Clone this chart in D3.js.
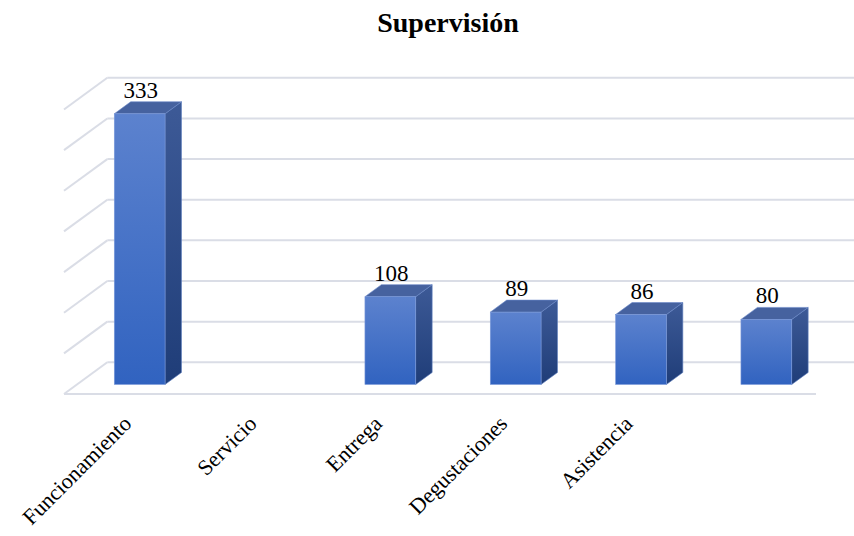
<!DOCTYPE html>
<html>
<head>
<meta charset="utf-8">
<script src="https://cdn.jsdelivr.net/npm/d3@7"></script>
<style>
  body { margin: 0; background: #fff; }
  #graph svg { display: block; }
</style>
</head>
<body>
<div id="graph"></div>
<script>
//Chart data.
const categories = ["Funcionamiento", "Servicio", "Entrega", "Degustaciones", "Asistencia", ""];
const values = [333, null, 108, 89, 86, 80];
const yTicks = [0, 50, 100, 150, 200, 250, 300, 350];

const serif = "'Liberation Serif', Tinos, 'Times New Roman', 'DejaVu Serif', serif";

//Dimensions of the page and the plot floor.
let w = 854;
let h = 536;
let left = 64;
let right = 816;
let floorY = 394;
let plotH = 284.5;

//Oblique depth of the floor, and where the bars sit inside it.
let depthX = 43.3;
let depthY = -31.7;
let frontF = 0.3;
let backF = 0.68;

let xScale
let yScale

const svg = d3.select("#graph")
  .append("svg")
  .attr("width", w)
  .attr("height", h)
  .attr("viewBox", "0 0 " + w + " " + h)

const dataSet = categories.map((c, i) => ({ name: c, value: values[i] }))

getScales();
addGradients();
drawGrid();
drawBars();
addLabels();

function getScales() {
  xScale = d3.scaleBand()
    .domain(categories)
    .range([left, right])
    .paddingInner(0.595)
    .paddingOuter(0.2975)

  yScale = d3.scaleLinear()
    .domain([0, 350])
    .range([floorY, floorY - plotH])
}

function addGradients() {
  const defs = svg.append("defs")

  const front = defs.append("linearGradient")
    .attr("id", "frontGrad")
    .attr("x1", 0).attr("y1", 0).attr("x2", 0).attr("y2", 1)
  front.append("stop").attr("offset", "0%").attr("stop-color", "#5c82ce")
  front.append("stop").attr("offset", "100%").attr("stop-color", "#3163c0")

  const side = defs.append("linearGradient")
    .attr("id", "sideGrad")
    .attr("x1", 0).attr("y1", 0).attr("x2", 0).attr("y2", 1)
  side.append("stop").attr("offset", "0%").attr("stop-color", "#3d5a97")
  side.append("stop").attr("offset", "100%").attr("stop-color", "#1f3d78")
}

//Back wall lines and the slanted lines on the left wall.
function drawGrid() {
  const grid = svg.append("g").attr("class", "grid")

  grid.selectAll("line.back")
    .data(yTicks)
    .enter()
    .append("line")
    .attr("class", "back")
    .attr("x1", left + depthX)
    .attr("x2", right + depthX)
    .attr("y1", (d) => yScale(d) + depthY)
    .attr("y2", (d) => yScale(d) + depthY)
    .attr("stroke", "#dadde6")
    .attr("stroke-width", 2)

  grid.selectAll("line.side")
    .data(yTicks)
    .enter()
    .append("line")
    .attr("class", "side")
    .attr("x1", left)
    .attr("y1", (d) => yScale(d))
    .attr("x2", left + depthX)
    .attr("y2", (d) => yScale(d) + depthY)
    .attr("stroke", "#dadde6")
    .attr("stroke-width", 2)

  //Front edge of the floor.
  grid.append("line")
    .attr("x1", left)
    .attr("x2", right)
    .attr("y1", yScale(0))
    .attr("y2", yScale(0))
    .attr("stroke", "#dadde6")
    .attr("stroke-width", 2)
}

function drawBars() {
  const bw = xScale.bandwidth()
  const ddx = (backF - frontF) * depthX
  const ddy = (backF - frontF) * depthY

  const bars = svg.selectAll("g.bar")
    .data(dataSet.filter((d) => d.value != null))
    .enter()
    .append("g")
    .attr("class", "bar")

  const x0 = (d) => xScale(d.name) + frontF * depthX
  const yt = (d) => yScale(d.value) + frontF * depthY
  const yb = () => yScale(0) + frontF * depthY

  //Right side face.
  bars.append("path")
    .attr("d", (d) => {
      const x1 = x0(d) + bw
      return "M" + x1 + "," + yt(d) +
        "L" + (x1 + ddx) + "," + (yt(d) + ddy) +
        "L" + (x1 + ddx) + "," + (yb() + ddy) +
        "L" + x1 + "," + yb() + "Z"
    })
    .attr("fill", "url(#sideGrad)")
    .attr("stroke", "#5f7fc0")
    .attr("stroke-width", 0.6)

  //Top face.
  bars.append("path")
    .attr("d", (d) => {
      const x1 = x0(d) + bw
      return "M" + x0(d) + "," + yt(d) +
        "L" + x1 + "," + yt(d) +
        "L" + (x1 + ddx) + "," + (yt(d) + ddy) +
        "L" + (x0(d) + ddx) + "," + (yt(d) + ddy) + "Z"
    })
    .attr("fill", "#46629f")
    .attr("stroke", "#6a88c8")
    .attr("stroke-width", 0.6)

  //Front face.
  bars.append("rect")
    .attr("x", x0)
    .attr("y", yt)
    .attr("width", bw)
    .attr("height", (d) => yb() - yt(d))
    .attr("fill", "url(#frontGrad)")
    .attr("stroke", "#7c9ada")
    .attr("stroke-width", 0.6)

  //Value labels above each bar.
  bars.append("text")
    .attr("x", (d) => x0(d) + bw / 2 + 1)
    .attr("y", (d) => yScale(d.value) + backF * depthY - 4)
    .attr("font-family", serif)
    .attr("font-size", 23)
    .attr("fill", "#000")
    .style("text-anchor", "middle")
    .text((d) => d.value)
}

function addLabels() {
  const xAxis = d3.axisBottom(xScale)
    .tickSize(0)
    .tickPadding(0)

  const axisG = svg.append("g")
    .attr("id", "x-axis")
    .attr("transform", "translate(0, 425)")
    .call(xAxis)

  axisG.select(".domain").remove()

  axisG.attr("font-family", serif)
    .attr("font-size", 22)

  axisG.selectAll("text")
    .attr("fill", "#000")
    .attr("y", 0)
    .attr("dy", 0)
    .attr("transform", "translate(6, 0) rotate(-45)")
    .style("text-anchor", "end")

  svg.append("text")
    .attr("id", "title")
    .attr("x", 448)
    .attr("y", 32)
    .attr("font-family", serif)
    .attr("font-size", 28)
    .attr("font-weight", "bold")
    .style("text-anchor", "middle")
    .text("Supervisión")
}
</script>
</body>
</html>
